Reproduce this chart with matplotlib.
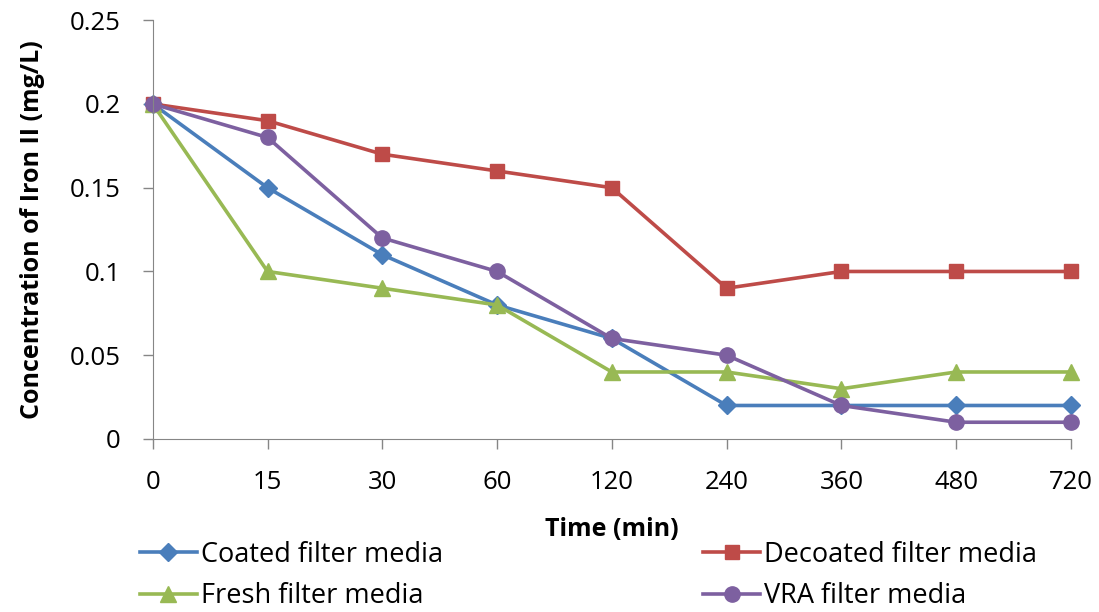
import numpy as np
import matplotlib.pyplot as plt

plt.rcParams['font.family'] = ['Open Sans', 'DejaVu Sans']

time_labels = ['0', '15', '30', '60', '120', '240', '360', '480', '720']
coated = [0.20, 0.15, 0.11, 0.08, 0.06, 0.02, 0.02, 0.02, 0.02]
decoated = [0.20, 0.19, 0.17, 0.16, 0.15, 0.09, 0.10, 0.10, 0.10]
fresh = [0.20, 0.10, 0.09, 0.08, 0.04, 0.04, 0.03, 0.04, 0.04]
vra = [0.20, 0.18, 0.12, 0.10, 0.06, 0.05, 0.02, 0.01, 0.01]

series = [
    ("Coated filter media", coated, '#4A7EBB', 'D', 9),
    ("Decoated filter media", decoated, '#BE4B48', 's', 10),
    ("Fresh filter media", fresh, '#98B954', '^', 11),
    ("VRA filter media", vra, '#7D60A0', 'o', 11),
]

fig = plt.figure(figsize=(10.99, 6.12), dpi=100)
ax = fig.add_axes([0.139, 0.2827, 0.8355, 0.6843])

x = np.arange(len(time_labels))
handles = {}
for name, vals, col, mk, ms in series:
    h, = ax.plot(x, vals, color=col, lw=2.6, marker=mk, markersize=ms,
                 markerfacecolor=col, markeredgecolor=col, label=name, clip_on=False)
    handles[name] = h

ax.set_xlim(0, len(time_labels) - 1)
ax.set_ylim(0, 0.25)
ax.set_xticks(x)
ax.set_xticklabels(time_labels)
ax.set_yticks([0, 0.05, 0.1, 0.15, 0.2, 0.25])
ax.set_yticklabels(['0', '0.05', '0.1', '0.15', '0.2', '0.25'])
ax.tick_params(labelsize=18.5, color='#868686', length=7, width=1)
ax.tick_params(axis='x', pad=15)
ax.tick_params(axis='y', pad=16)
for s in ['top', 'right']:
    ax.spines[s].set_visible(False)
for s in ['left', 'bottom']:
    ax.spines[s].set_color('#868686')

ax.set_xlabel("Time (min)", fontsize=18, fontweight='bold', labelpad=16)
ax.set_ylabel("Concentration of Iron II (mg/L)", fontsize=18, fontweight='bold', labelpad=18)

order = ["Coated filter media", "Fresh filter media", "Decoated filter media", "VRA filter media"]
fig.legend([handles[n] for n in order], order, ncol=2, loc='lower left',
           bbox_to_anchor=(0.1274, 0.003), frameon=False, fontsize=19.5,
           borderpad=0, borderaxespad=0,
           handlelength=2.1, handletextpad=0.15, columnspacing=9.6, labelspacing=0.5)

fig.savefig("out.png", dpi=100)
